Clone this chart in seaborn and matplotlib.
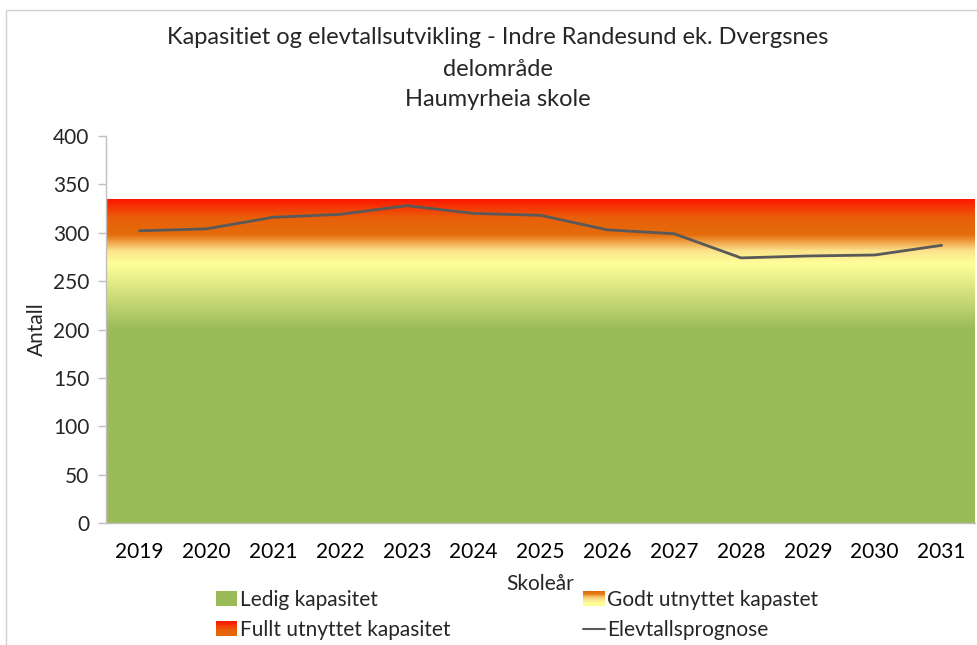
import numpy as np
import pandas as pd
import matplotlib
matplotlib.use("Agg")
import matplotlib.pyplot as plt
import seaborn as sns
from matplotlib.colors import LinearSegmentedColormap
from matplotlib.patches import Rectangle
from matplotlib.lines import Line2D
from matplotlib.legend_handler import HandlerBase

years = ["2019", "2020", "2021", "2022", "2023", "2024", "2025",
         "2026", "2027", "2028", "2029", "2030", "2031"]
elevtall = [302, 304, 316, 319, 328, 320, 318, 303, 299, 274, 276, 277, 287]
ledig = [268] * 13
godt = [34] * 13
fullt = [33] * 13

GREEN = "#9BBB59"
LINE = "#595959"

# gradient stops (value in Antall, colour) used for the Excel-like fill
grad_stops = [(0, GREEN), (200, GREEN), (268, "#FFFF99"), (281, "#FBE38C"),
              (298, "#E46C0A"), (315, "#E8600A"), (335, "#FF1500")]

sns.set_style("white")
plt.rcParams["font.family"] = ["Lato", "DejaVu Sans"]
FS = 15

fig = plt.figure(figsize=(9.78, 6.45), dpi=100)
ax = fig.add_axes([106 / 978, 1 - 523 / 645, (975 - 106) / 978, (523 - 136) / 645])

n = len(years)
idx = np.arange(n)
xe = np.concatenate([[-0.5], idx, [n - 0.5]])


def pad(v):
    v = list(v)
    return np.array([v[0]] + v + [v[-1]], dtype=float)


b1 = pad(ledig)
b2 = b1 + pad(godt)
b3 = b2 + pad(fullt)

vmax = grad_stops[-1][0]
cmap = LinearSegmentedColormap.from_list(
    "kap", [(v / vmax, c) for v, c in grad_stops])

bands = [(np.zeros_like(b1), b1, GREEN),
         (b1, b2, "#F5B04A"),
         (b2, b3, "#F03A05")]
grad = np.linspace(0, 1, 512).reshape(-1, 1)
for lo, hi, col in bands:
    poly = ax.fill_between(xe, lo, hi, color=col, lw=0)
    im = ax.imshow(grad, cmap=cmap, aspect="auto", origin="lower",
                   extent=[-0.5, n - 0.5, 0, vmax], zorder=1)
    im.set_clip_path(poly.get_paths()[0], transform=ax.transData)

df = pd.DataFrame({"Skoleår": idx, "Antall": elevtall})
sns.lineplot(data=df, x="Skoleår", y="Antall", color=LINE, lw=2, ax=ax,
             zorder=3, legend=False)

ax.set_xlim(-0.5, n - 0.5)
ax.set_ylim(0, 400)
ax.set_yticks(range(0, 401, 50))
ax.set_xticks(idx)
ax.set_xticklabels(years)
ax.set_xticks(np.arange(-0.5, n, 1), minor=True)
ax.tick_params(axis="x", which="major", length=0, labelsize=FS,
               pad=14, colors="black")
ax.tick_params(axis="x", which="minor", length=7, width=1, color="#BFBFBF",
               direction="out")
ax.tick_params(axis="y", length=6, width=1, color="#BFBFBF", labelsize=FS,
               pad=6, direction="out", left=True)
for s in ["top", "right"]:
    ax.spines[s].set_visible(False)
for s in ["left", "bottom"]:
    ax.spines[s].set_color("#BFBFBF")
    ax.spines[s].set_linewidth(1)
ax.set_xlabel("Skoleår", fontsize=FS, labelpad=8)
ax.set_ylabel("Antall", fontsize=FS, labelpad=4)

TFS = 17
fig.text(498 / 978, 1 - 38 / 645, "Kapasitiet og elevtallsutvikling - Indre Randesund ek. Dvergsnes",
         ha="center", va="center", fontsize=TFS)
fig.text(498 / 978, 1 - 69 / 645, "delområde", ha="center", va="center", fontsize=TFS)
fig.text(498 / 978, 1 - 100 / 645, "Haumyrheia skole", ha="center", va="center", fontsize=TFS)

# light chart border (continues beyond the cropped right/bottom edge)
fig.patches.append(Rectangle((6 / 978, -0.1), 1.2, 1 - 10 / 645 + 0.1,
                             transform=fig.transFigure, fill=False,
                             ec="#D0D0D0", lw=1))


class GradHandler(HandlerBase):
    def __init__(self, lo, hi):
        super().__init__()
        self.lo, self.hi = lo, hi

    def create_artists(self, legend, orig, xd, yd, w, h, fontsize, trans):
        arts = []
        k = 12
        for i in range(k):
            v = self.lo + (self.hi - self.lo) * (i + 0.5) / k
            r = Rectangle((xd, yd + h * i / k), w, h / k + 0.3,
                          fc=cmap(v / vmax), ec="none", transform=trans)
            arts.append(r)
        return arts


h_led = Rectangle((0, 0), 1, 1, fc=GREEN)
h_godt = Rectangle((0, 0), 1, 1, fc="#F5B04A")
h_full = Rectangle((0, 0), 1, 1, fc="#F03A05")
h_line = Line2D([], [], color=LINE, lw=1.5)
# column-wise fill: col 1 = Ledig, Fullt; col 2 = Godt, Elevtall
fig.legend([h_led, h_full, h_godt, h_line],
           ["Ledig kapasitet", "Fullt utnyttet kapasitet",
            "Godt utnyttet kapastet", "Elevtallsprognose"],
           handler_map={h_led: GradHandler(0, 150),
                        h_godt: GradHandler(262, 302),
                        h_full: GradHandler(300, 335)},
           loc="center", bbox_to_anchor=(517 / 978, 1 - 615 / 645), ncol=2,
           frameon=False, fontsize=FS, columnspacing=6.4, handlelength=1.05,
           handleheight=0.7, handletextpad=0.1, labelspacing=0.5)

fig.savefig("out.png", dpi=100)
